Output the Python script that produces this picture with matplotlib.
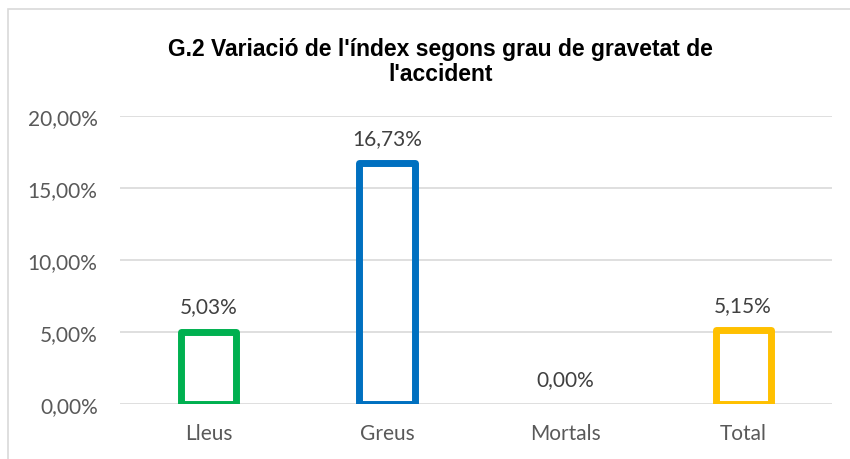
import matplotlib.pyplot as plt
from matplotlib.patches import Rectangle
from matplotlib.ticker import FuncFormatter

categories = ['Lleus', 'Greus', 'Mortals', 'Total']
values = [5.03, 16.73, 0.00, 5.15]
colors = ['#00B050', '#0070C0', '#7F7F7F', '#FFC000']
yticks = [0, 5, 10, 15, 20]

title = "G.2 Variació de l'índex segons grau de gravetat de\nl'accident"
source = "Font: OBIM"

def pct(v, pos=None):
    return f"{v:.2f}".replace('.', ',') + '%'

fig = plt.figure(figsize=(8.5, 4.6), dpi=100)
ax = fig.add_axes([0.141, 0.1196, 0.838, 0.626])

# outer chart frame (partly out of view, as in the source)
fig.patches.append(Rectangle((8 / 850, -0.1), 1.2, 1.1 - 10 / 460, transform=fig.transFigure,
                             fill=False, edgecolor='#D9D9D9', linewidth=1.2))

x = range(len(categories))
for i, v in enumerate(values):
    ax.bar(i, v, width=0.31, facecolor='none', edgecolor=colors[i],
           linewidth=5 if v > 0 else 0, joinstyle='round', zorder=3)
    ax.annotate(pct(v), (i, v), xytext=(0, 18), textcoords='offset points',
                ha='center', va='center', fontsize=15, color='#404040', family='Lato')

ax.set_ylim(0, 20)
ax.set_xlim(-0.5, len(categories) - 0.5)
ax.set_yticks(yticks)
ax.yaxis.set_major_formatter(FuncFormatter(pct))
ax.set_xticks(list(x))
ax.set_xticklabels(categories)
ax.grid(axis='y', color='#D9D9D9', linewidth=1.2, zorder=0)
ax.set_axisbelow(True)
for s in ax.spines.values():
    s.set_visible(False)
ax.tick_params(length=0, labelsize=15, labelcolor='#595959')
ax.tick_params(axis='x', pad=14)
ax.tick_params(axis='y', pad=16)
for lab in ax.get_xticklabels() + ax.get_yticklabels():
    lab.set_family('Lato')

fig.text(0.518, 0.865, title, ha='center', va='center', fontsize=16.5, fontweight='bold',
         family='Liberation Sans', linespacing=1.15)
fig.text(0.045, -0.02, source, ha='left', va='center', fontsize=14, color='#404040', family='Lato')

fig.savefig('out.png', dpi=100)
